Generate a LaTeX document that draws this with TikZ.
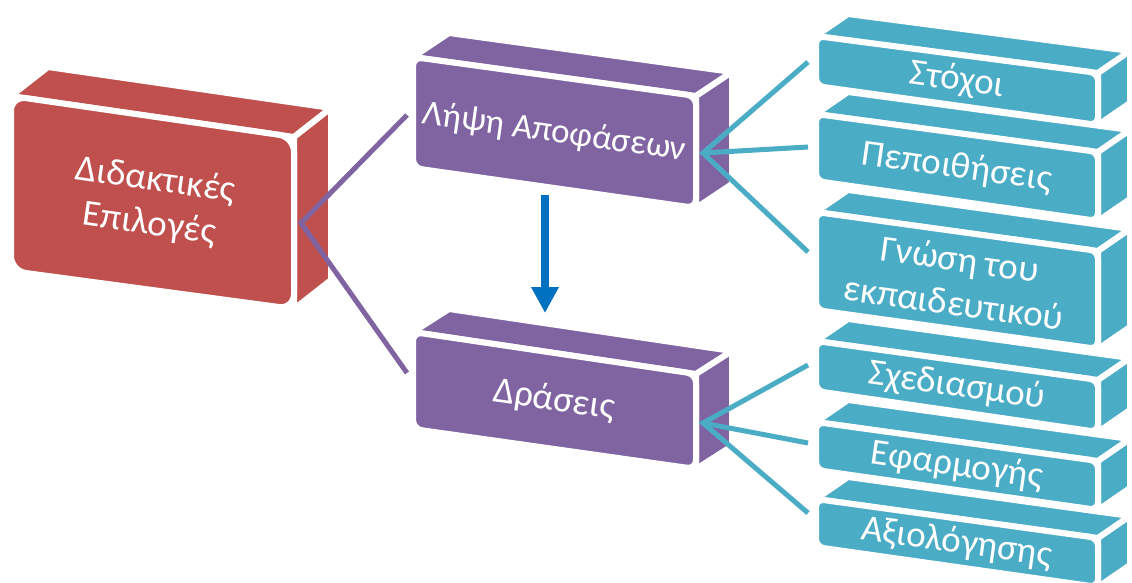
\documentclass[tikz,border=0pt]{standalone}
\usepackage{fontspec}
\setmainfont{Carlito}
\usetikzlibrary{calc,arrows.meta}
\definecolor{redbox}{HTML}{C0504D}
\definecolor{purplebox}{HTML}{8064A2}
\definecolor{tealbox}{HTML}{4BACC6}
\definecolor{arrowblue}{HTML}{0070C0}

% #1 prefix of the corner coordinates, #2 colour, #3 depth vector,
% #4 corner radius of the front face, #5 text
\newcommand{\cuboid}[5]{%
  \filldraw[face,fill=#2] (#1-A) -- (#1-B) -- ($(#1-B)+(#3)$) -- ($(#1-A)+(#3)$) -- cycle;
  \filldraw[face,fill=#2] (#1-B) -- (#1-C) -- ($(#1-C)+(#3)$) -- ($(#1-B)+(#3)$) -- cycle;
  \filldraw[face,fill=#2,rounded corners=#4] (#1-A) -- (#1-B) -- (#1-C) -- (#1-D) -- cycle;
  \node[facetext] (#1) at ($(#1-A)!0.5!(#1-C)$) {#5};
}

\begin{document}
\begin{tikzpicture}[x=1pt,y=-1pt,
  face/.style={draw=white,line width=6pt,line join=round},
  facetext/.style={text=white,font=\fontsize{37}{44}\selectfont,align=center,rotate=-8,inner sep=0pt},
  purpleline/.style={draw=purplebox,line width=5pt},
  tealline/.style={draw=tealbox,line width=5pt}]
\useasboundingbox (0,0) rectangle (1132,582);

% front face corners of every block
\coordinate (red-A) at (11,96);   \coordinate (red-B) at (294,137);
\coordinate (red-C) at (294,309); \coordinate (red-D) at (11,271);

\coordinate (dec-A) at (413,57);  \coordinate (dec-B) at (696,96);
\coordinate (dec-C) at (696,208); \coordinate (dec-D) at (413,168);

\coordinate (act-A) at (413,332); \coordinate (act-B) at (696,374);
\coordinate (act-C) at (696,469); \coordinate (act-D) at (413,429);

\coordinate (t1-A) at (816,36);   \coordinate (t1-B) at (1098,73);
\coordinate (t1-C) at (1098,125); \coordinate (t1-D) at (816,86);

\coordinate (t2-A) at (816,114);  \coordinate (t2-B) at (1098,152);
\coordinate (t2-C) at (1098,221); \coordinate (t2-D) at (816,181);

\coordinate (t3-A) at (816,212);  \coordinate (t3-B) at (1098,251);
\coordinate (t3-C) at (1098,349); \coordinate (t3-D) at (816,310);

\coordinate (t4-A) at (816,341);  \coordinate (t4-B) at (1098,380);
\coordinate (t4-C) at (1098,432); \coordinate (t4-D) at (816,391);

\coordinate (t5-A) at (816,422);  \coordinate (t5-B) at (1098,461);
\coordinate (t5-C) at (1098,510); \coordinate (t5-D) at (816,470);

\coordinate (t6-A) at (816,499);  \coordinate (t6-B) at (1098,538);
\coordinate (t6-C) at (1098,587); \coordinate (t6-D) at (816,547);

% blocks
\cuboid{red}{redbox}{37,-29}{15}{Διδακτικές\\Επιλογές}
\cuboid{dec}{purplebox}{36,-24}{9}{\fontsize{35}{42}\selectfont Λήψη Αποφάσεων}
\cuboid{act}{purplebox}{36,-23}{9}{Δράσεις}
\cuboid{t1}{tealbox}{32,-22}{8}{Στόχοι}
\cuboid{t2}{tealbox}{32,-22}{8}{Πεποιθήσεις}
\cuboid{t3}{tealbox}{32,-22}{8}{Γνώση του\\εκπαιδευτικού}
\cuboid{t4}{tealbox}{32,-22}{8}{Σχεδιασμού}
\cuboid{t5}{tealbox}{32,-22}{8}{Εφαρμογής}
\cuboid{t6}{tealbox}{32,-22}{8}{Αξιολόγησης}

% connector ends
\coordinate (red-out) at (301,223);
\coordinate (dec-in) at (407,115);
\coordinate (act-in) at (407,373);
\coordinate (dec-out) at (703,153);
\coordinate (act-out) at (703,423);
\coordinate (t1-in) at (808,62);
\coordinate (t2-in) at (808,147);
\coordinate (t3-in) at (808,252);
\coordinate (t4-in) at (808,365);
\coordinate (t5-in) at (808,443);
\coordinate (t6-in) at (808,513);
\coordinate (arr-s) at (545,195);
\coordinate (arr-e) at (545,313);

\draw[purpleline] (dec-in) -- (red-out) -- (act-in);
\draw[tealline] (t1-in) -- (dec-out) -- (t3-in);
\draw[tealline] (dec-out) -- (t2-in);
\draw[tealline] (t4-in) -- (act-out) -- (t6-in);
\draw[tealline] (act-out) -- (t5-in);

\draw[draw=arrowblue,line width=8.5pt,-{Triangle[width=26pt,length=26pt,fill=arrowblue]}] (arr-s) -- (arr-e);
\end{tikzpicture}
\end{document}
